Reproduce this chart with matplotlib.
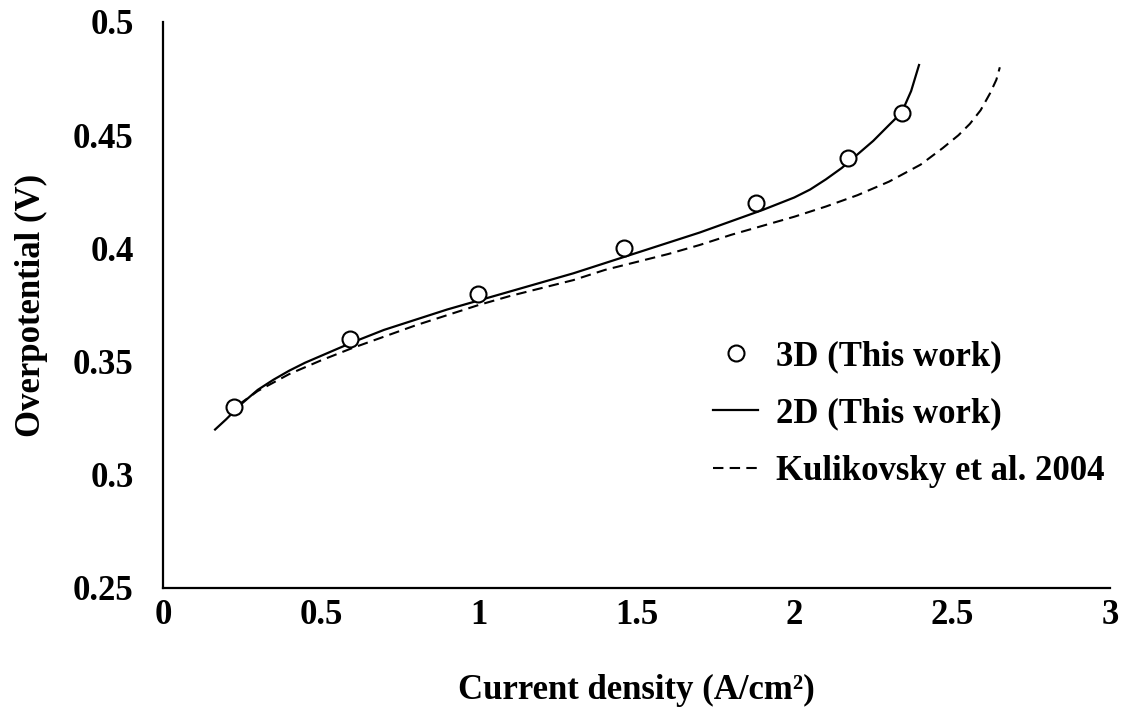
import matplotlib
matplotlib.use('Agg')
import matplotlib.pyplot as plt

plt.rcParams['font.family'] = ['Liberation Serif', 'DejaVu Serif']
plt.rcParams['font.weight'] = 'bold'
plt.rcParams['axes.labelweight'] = 'bold'
plt.rcParams['font.size'] = 25

# 3D simulation points
j_3d = [0.225, 0.592, 0.998, 1.46, 1.88, 2.17, 2.34]
eta_3d = [0.33, 0.36, 0.38, 0.40, 0.42, 0.44, 0.46]

# 2D simulation curve
j_2d = [0.165, 0.20, 0.25, 0.30, 0.35, 0.40, 0.45, 0.50, 0.60, 0.70, 0.80,
        0.90, 1.00, 1.10, 1.20, 1.30, 1.40, 1.50, 1.60, 1.70, 1.80, 1.90,
        2.00, 2.05, 2.10, 2.15, 2.20, 2.25, 2.30, 2.34, 2.37, 2.395]
eta_2d = [0.320, 0.3245, 0.3315, 0.3375, 0.342, 0.346, 0.3495, 0.3525, 0.3585, 0.364, 0.3685,
          0.373, 0.377, 0.381, 0.385, 0.389, 0.3935, 0.398, 0.4025, 0.407, 0.412, 0.417,
          0.4225, 0.426, 0.4305, 0.4355, 0.4415, 0.4475, 0.4545, 0.460, 0.4695, 0.481]

# Kulikovsky et al. 2004
j_ref = [0.24, 0.30, 0.40, 0.50, 0.60, 0.70, 0.80, 0.90, 1.00, 1.10, 1.20,
         1.30, 1.40, 1.50, 1.60, 1.70, 1.80, 1.90, 2.00, 2.10, 2.20, 2.30,
         2.40, 2.47, 2.52, 2.556, 2.59, 2.62, 2.64, 2.651]
eta_ref = [0.331, 0.337, 0.3445, 0.3505, 0.356, 0.361, 0.366, 0.3705, 0.375, 0.379, 0.3825,
           0.386, 0.3905, 0.394, 0.3975, 0.4015, 0.406, 0.410, 0.414, 0.4185, 0.4235, 0.4295,
           0.437, 0.4443, 0.450, 0.455, 0.461, 0.4685, 0.4745, 0.480]

fig = plt.figure(figsize=(11.25, 7.13), dpi=100)
ax = fig.add_axes([163 / 1125, 125 / 713, 947 / 1125, 566 / 713])

ax.plot(j_3d, eta_3d, linestyle='none', marker='o', markersize=11.5,
        markerfacecolor='white', markeredgecolor='black', markeredgewidth=1.5,
        label='3D (This work)', zorder=3)
ax.plot(j_2d, eta_2d, color='black', linewidth=1.6, label='2D (This work)')
ax.plot(j_ref, eta_ref, color='black', linewidth=1.5, dashes=(5, 3),
        label='Kulikovsky et al. 2004')

ax.set_xlim(0, 3)
ax.set_ylim(0.25, 0.5)
ax.set_xticks([0, 0.5, 1, 1.5, 2, 2.5, 3])
ax.set_xticklabels(['0', '0.5', '1', '1.5', '2', '2.5', '3'])
ax.set_yticks([0.25, 0.3, 0.35, 0.4, 0.45, 0.5])
ax.set_yticklabels(['0.25', '0.3', '0.35', '0.4', '0.45', '0.5'])
ax.tick_params(axis='x', length=0, pad=8)
ax.tick_params(axis='y', length=0, pad=21)

for side in ('top', 'right'):
    ax.spines[side].set_visible(False)
for side in ('left', 'bottom'):
    ax.spines[side].set_linewidth(1.6)

ax.set_xlabel('Current density (A/cm²)', labelpad=30)
ax.set_ylabel('Overpotential (V)', labelpad=18)

ax.legend(loc='center left', bbox_to_anchor=(713 / 1125, 1 - 414 / 713),
          bbox_transform=fig.transFigure, frameon=False, borderpad=0,
          borderaxespad=0, handlelength=1.3, handletextpad=0.5,
          labelspacing=0.7)

fig.savefig('out.png', dpi=100)
